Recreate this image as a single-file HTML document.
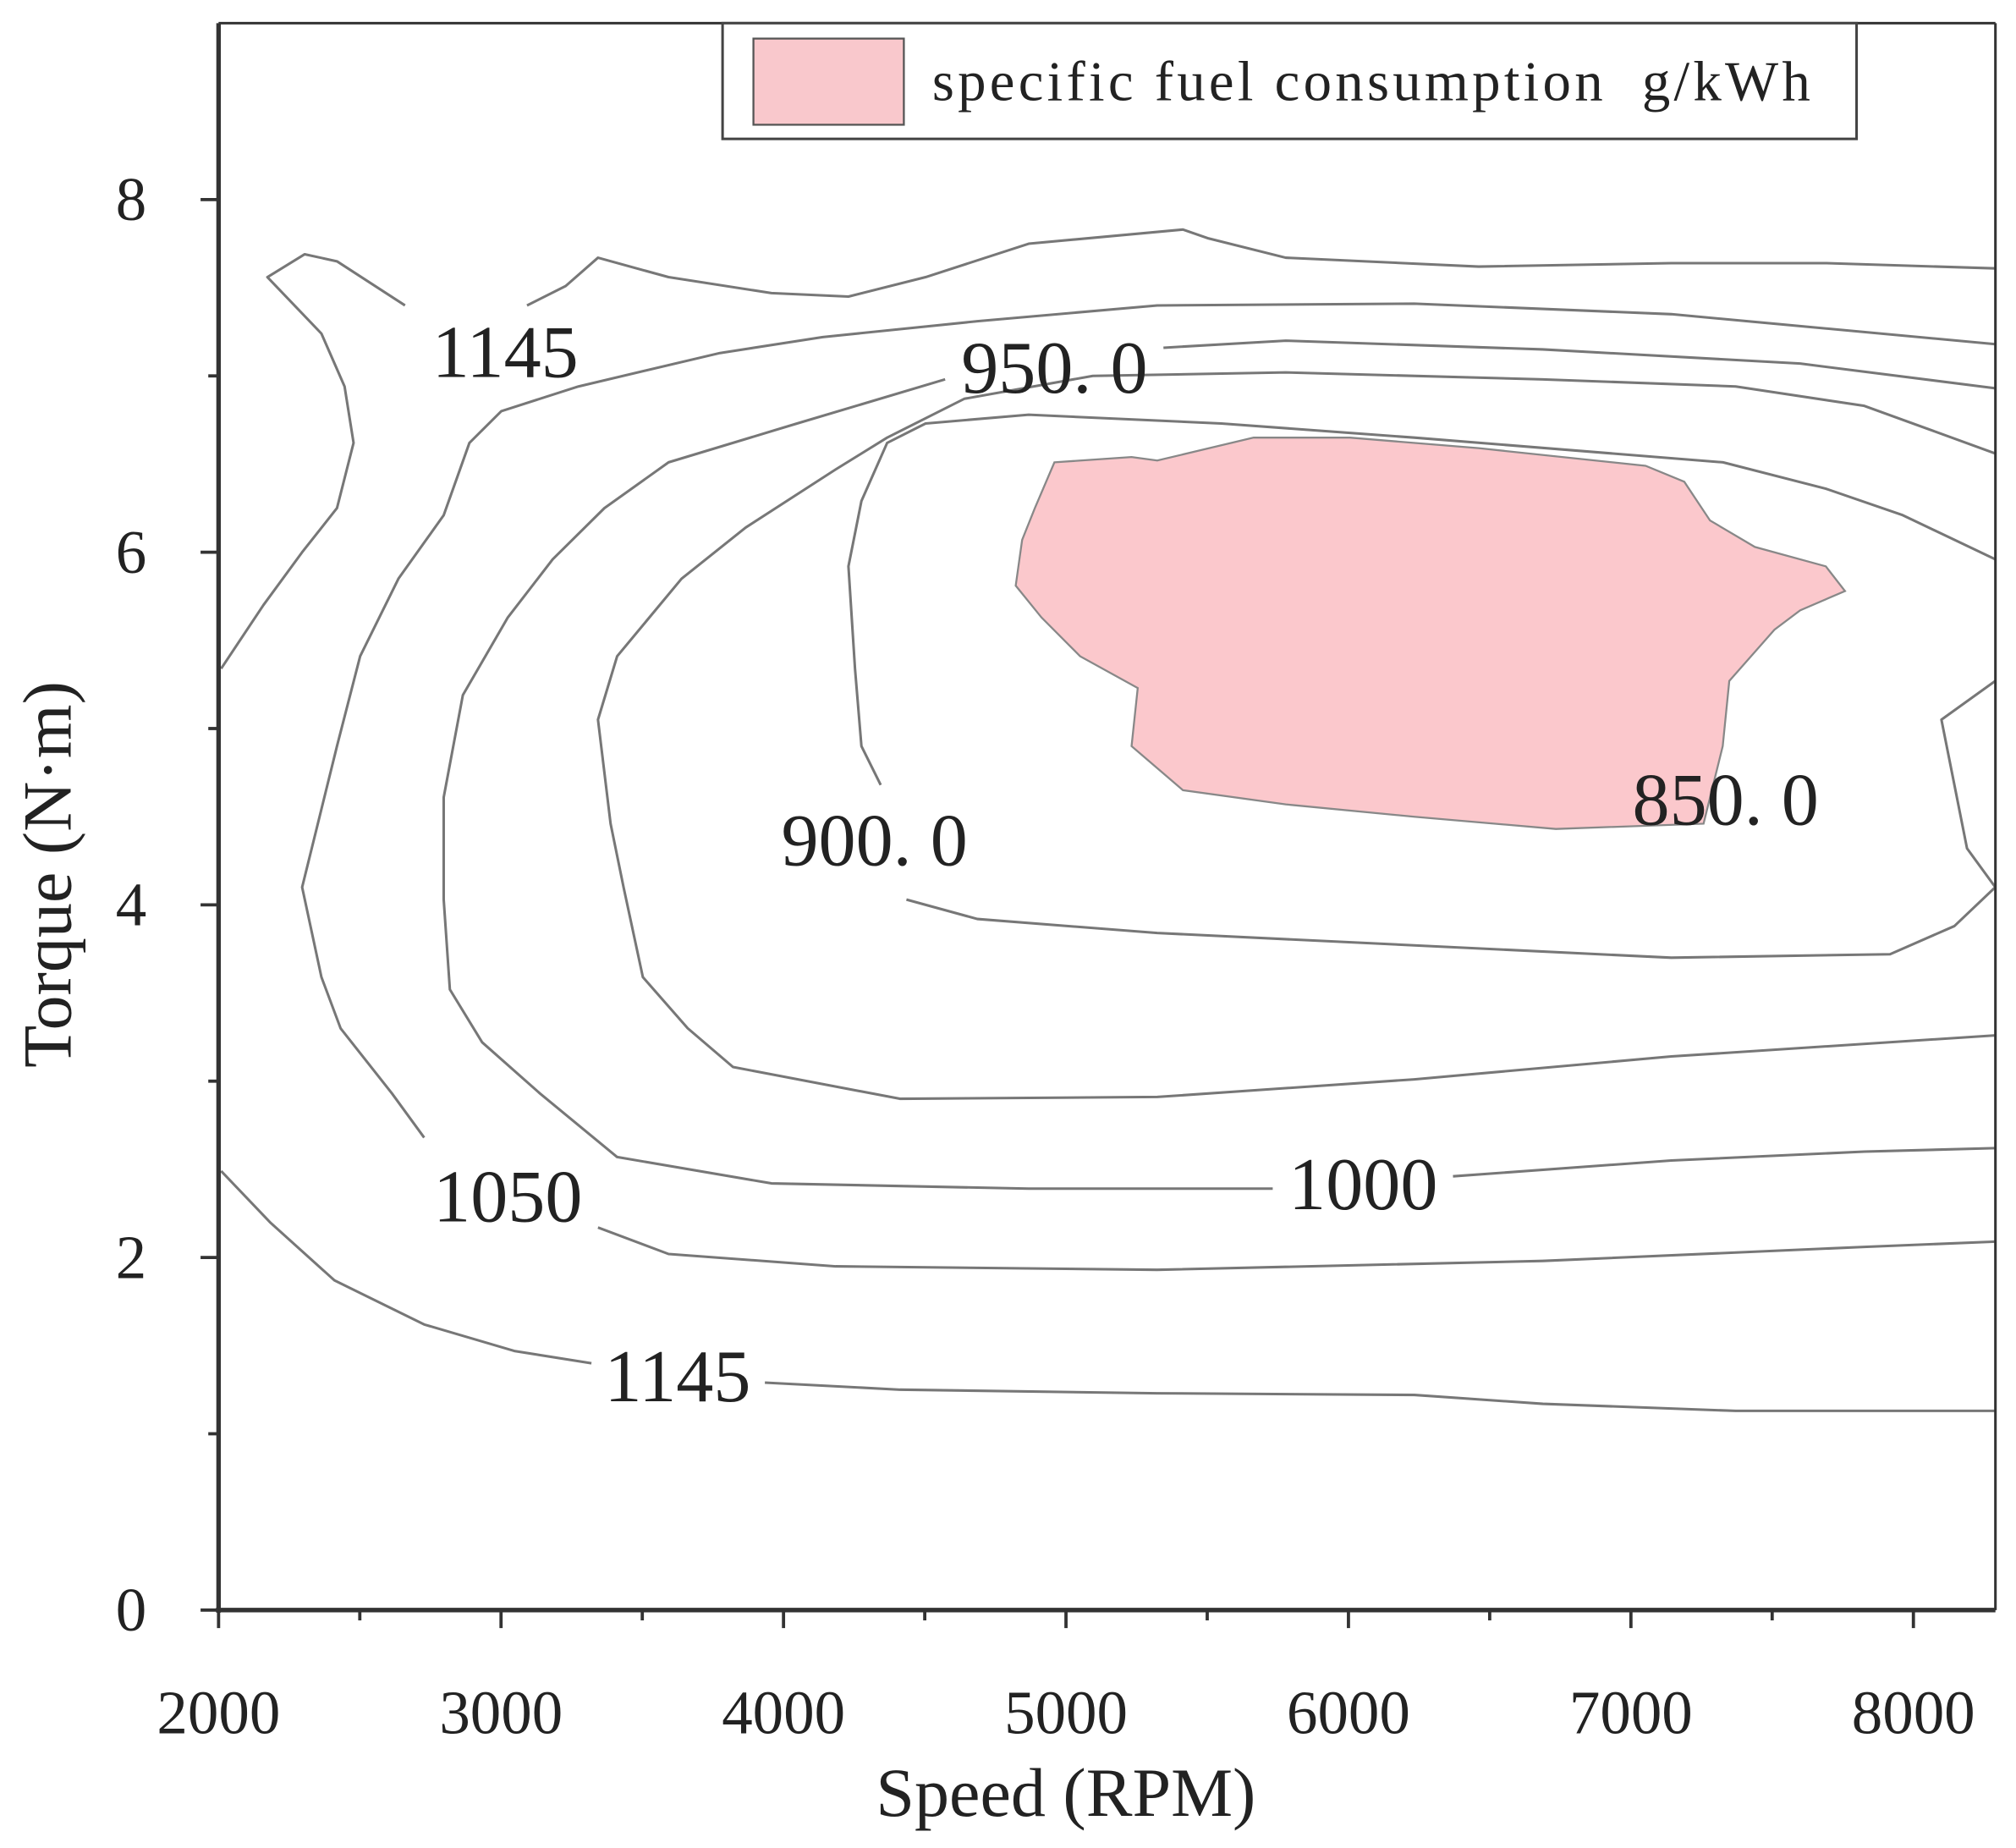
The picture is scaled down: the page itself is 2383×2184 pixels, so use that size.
<!DOCTYPE html>
<html><head><meta charset="utf-8"><style>
html,body{margin:0;padding:0;background:#fff;}
svg{display:block;}
text{font-family:"Liberation Serif","Noto Serif CJK SC",serif;fill:#222;}
</style></head><body>
<svg id="chart" width="2383" height="2184" viewBox="0 0 1568 1437" preserveAspectRatio="none" xmlns="http://www.w3.org/2000/svg">
<g id="plot"></g>
<g id="axes"></g>
<g>
<rect x="562" y="18" width="882" height="90" fill="#fff" stroke="#444" stroke-width="2"/>
<rect x="586" y="30" width="117" height="67" fill="#f9c8cc" stroke="#555" stroke-width="1.5"/>
<text x="725" y="78" font-size="44" letter-spacing="2.8" xml:space="preserve" style="white-space:pre">specific fuel consumption  g/kWh</text>
</g>
<text x="829" y="1412" font-size="54" text-anchor="middle">Speed (RPM)</text>
<text transform="translate(55,680) rotate(-90)" font-size="54" text-anchor="middle">Torque (N·m)</text>
</svg>
<script>
const xTicks=[2000,3000,4000,5000,6000,7000,8000];
const yTicks=[0,2,4,6,8];
const region850=[[4959,6.51],[5232,6.54],[5323,6.52],[5664,6.65],[6005,6.65],[6461,6.59],[7052,6.49],[7189,6.40],[7280,6.18],[7439,6.03],[7690,5.92],[7758,5.78],[7599,5.67],[7508,5.56],[7348,5.27],[7325,4.90],[7257,4.46],[6734,4.43],[6233,4.50],[5778,4.57],[5414,4.65],[5232,4.90],[5254,5.23],[5050,5.41],[4913,5.63],[4822,5.81],[4845,6.07],[4890,6.25]];
const c1145top=[[2009,5.34],[2159,5.70],[2296,6.00],[2419,6.25],[2478,6.62],[2446,6.94],[2364,7.24],[2173,7.56],[2305,7.69],[2419,7.65],[2660,7.40]];
const c1145topR=[[3092,7.40],[3229,7.51],[3343,7.67],[3593,7.56],[3957,7.47],[4230,7.45],[4503,7.56],[4868,7.75],[5414,7.83],[5505,7.78],[5778,7.67],[6461,7.62],[7143,7.64],[7690,7.64],[8290,7.61]];
const c1050a=[[8290,7.18],[7143,7.35],[6233,7.41],[5323,7.40],[4686,7.31],[4139,7.22],[3775,7.13],[3274,6.94],[3001,6.80],[2888,6.62],[2797,6.21],[2637,5.85],[2501,5.41],[2419,4.90],[2296,4.10],[2364,3.59],[2432,3.30],[2614,2.93],[2728,2.68]];
const c1050b=[[3343,2.17],[3593,2.02],[4185,1.95],[5323,1.93],[6688,1.98],[7826,2.06],[8290,2.09]];
const c1000a=[[8290,6.93],[7599,7.07],[6688,7.15],[5778,7.20],[5345,7.16]];
const c1000b=[[4572,6.98],[4048,6.73],[3593,6.51],[3366,6.25],[3183,5.96],[3024,5.63],[2865,5.19],[2797,4.61],[2797,4.03],[2819,3.52],[2933,3.22],[3138,2.93],[3411,2.57],[3957,2.42],[4868,2.39],[5732,2.39]];
const c1000c=[[6370,2.46],[7143,2.55],[7826,2.60],[8290,2.62]];
const c950=[[8290,6.56],[7826,6.83],[7371,6.94],[6688,6.98],[5778,7.02],[5095,7.00],[4640,6.87],[4367,6.65],[4185,6.47],[3866,6.14],[3639,5.85],[3411,5.41],[3343,5.05],[3388,4.46],[3434,4.10],[3502,3.59],[3661,3.30],[3821,3.08],[4412,2.90],[5323,2.91],[6233,3.01],[7143,3.14],[8290,3.26]];
const c900a=[[8290,5.96],[7962,6.21],[7690,6.36],[7326,6.51],[6233,6.65],[5550,6.73],[4868,6.78],[4503,6.73],[4367,6.62],[4276,6.29],[4230,5.92],[4253,5.34],[4276,4.90],[4344,4.68]];
const c900b=[[4435,4.03],[4686,3.92],[5323,3.84],[6233,3.77],[7143,3.70],[7917,3.72],[8145,3.88],[8290,4.10]];
const c850edge=[[8290,5.27],[8099,5.05],[8145,4.68],[8190,4.32],[8290,4.10]];
const c1145bot=[[2009,2.49],[2182,2.20],[2410,1.87],[2728,1.62],[3047,1.47],[3320,1.40]];
const c1145botR=[[3934,1.29],[4412,1.25],[5323,1.23],[6233,1.22],[6688,1.17],[7371,1.13],[8290,1.13]];
const labelText=["1145","950. 0","900. 0","850. 0","1050","1000","1145"];
const labelPos=[[3015,7.14],[4959,7.05],[4322,4.37],[7335,4.60],[3024,2.35],[6052,2.42],[3625,1.33]];

const X0=170,XPX=219.7,Y0=1252,YPX=137.1;
const xs=v=>X0+(v-2000)/1000*XPX;
const ys=v=>Y0-v*YPX;
const NS="http://www.w3.org/2000/svg";
const plot=document.getElementById('plot'), axes=document.getElementById('axes');
function pts(a){return a.map(p=>xs(p[0]).toFixed(1)+','+ys(p[1]).toFixed(1)).join(' ');}
const reg=document.createElementNS(NS,'polygon');
reg.setAttribute('points',pts(region850));
reg.setAttribute('fill','#fbc8cc');reg.setAttribute('stroke','#888');reg.setAttribute('stroke-width','1.5');


plot.appendChild(reg);
const lines=[c1145top,c1145topR,c1050a,c1050b,c1000a,c1000b,c1000c,c950,c900a,c900b,c850edge,c1145bot,c1145botR];
lines.forEach((l,i)=>{
 const p=document.createElementNS(NS,'polyline');
 p.setAttribute('points',pts(l));p.setAttribute('fill','none');p.setAttribute('stroke','#777');p.setAttribute('stroke-width','2');p.setAttribute('stroke-linejoin','round');
 
 
 plot.appendChild(p);
});
labelText.forEach((t,i)=>{
 const e=document.createElementNS(NS,'text');
 e.setAttribute('x',xs(labelPos[i][0]));e.setAttribute('y',ys(labelPos[i][1])+20);
 e.setAttribute('font-size','58');e.setAttribute('text-anchor','middle');e.setAttribute('fill','#333');
 e.textContent=t;
 
 
 plot.appendChild(e);
});
function ln(x1,y1,x2,y2,w,name){const l=document.createElementNS(NS,'line');l.setAttribute('x1',x1);l.setAttribute('y1',y1);l.setAttribute('x2',x2);l.setAttribute('y2',y2);l.setAttribute('stroke','#333');l.setAttribute('stroke-width',w);
 
 
 axes.appendChild(l);}
const R=1552,T=18;
ln(X0,T,R,T,2,'frame-top');ln(R,T,R,Y0,2,'frame-right');
ln(X0,T,X0,Y0+2,3.5,'y-axis-line');ln(X0-2,Y0,R,Y0,3.5,'x-axis-line');
for(let v=2000;v<=8250;v+=500){const major=v%1000===0;ln(xs(v),Y0,xs(v),Y0+(major?14:8),2.5,'x-tick');}
for(let v=0;v<=8;v+=1){const major=v%2===0;ln(X0,ys(v),X0-(major?14:8),ys(v),2.5,'y-tick');}
xTicks.forEach(v=>{const e=document.createElementNS(NS,'text');e.setAttribute('x',xs(v));e.setAttribute('y',Y0+96);e.setAttribute('font-size','48');e.setAttribute('text-anchor','middle');e.textContent=v;
 
 
 axes.appendChild(e);});
yTicks.forEach(v=>{const e=document.createElementNS(NS,'text');e.setAttribute('x',X0-68);e.setAttribute('y',ys(v)+16);e.setAttribute('font-size','48');e.setAttribute('text-anchor','middle');e.textContent=v;
 
 
 axes.appendChild(e);});
</script>
</body></html>
